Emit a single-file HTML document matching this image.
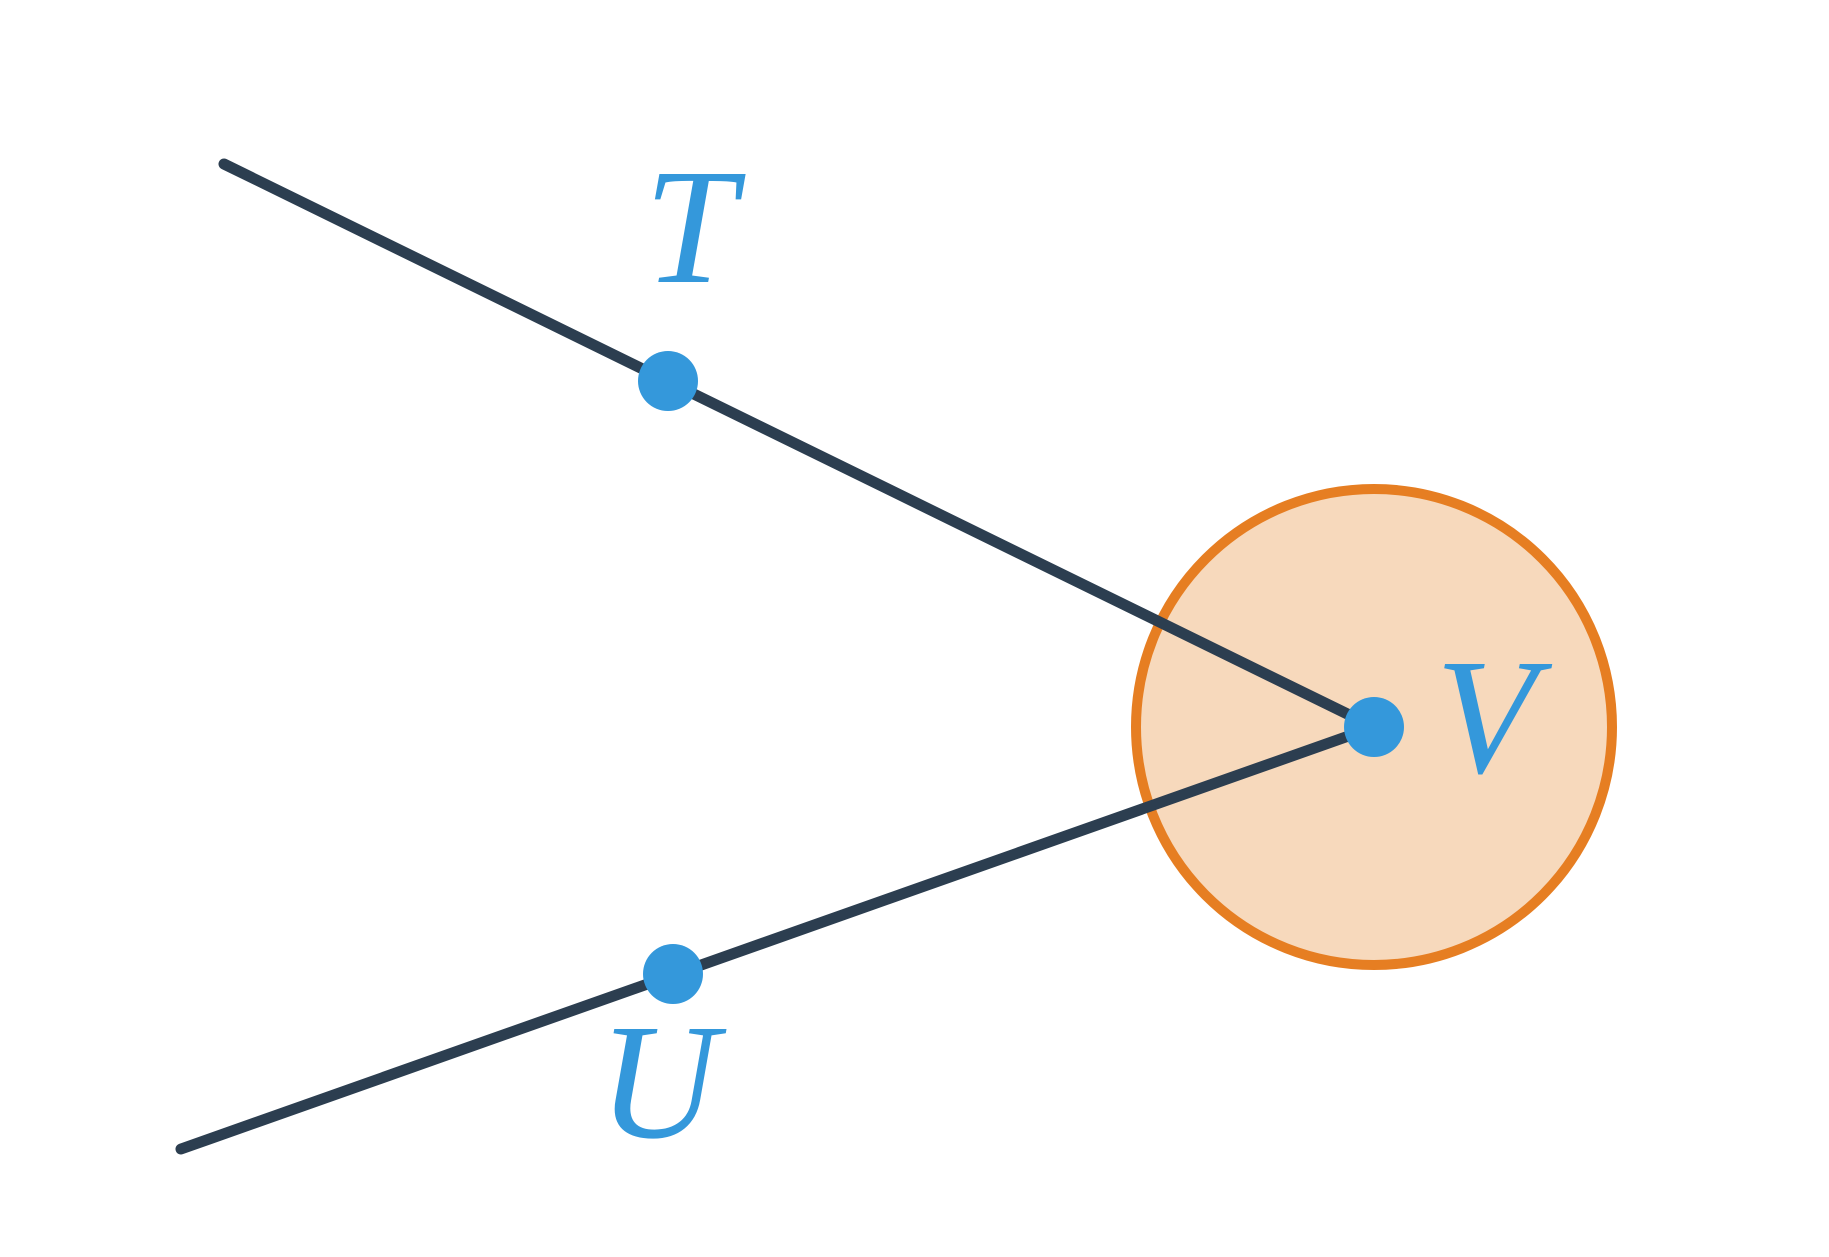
<!DOCTYPE html>
<html><head><meta charset="utf-8"><style>
html,body{margin:0;padding:0;background:#fff;}
svg{display:block;}
</style></head><body>
<svg width="1829" height="1257" viewBox="0 0 1829 1257" xmlns="http://www.w3.org/2000/svg">
<rect width="1829" height="1257" fill="#fff"/>
<circle cx="1374" cy="727" r="238" fill="#f7d9bc" stroke="#e67e22" stroke-width="10"/>
<line x1="224" y1="164" x2="1374" y2="727" stroke="#2c3e50" stroke-width="11" stroke-linecap="round"/>
<line x1="181" y1="1149" x2="1374" y2="727" stroke="#2c3e50" stroke-width="11" stroke-linecap="round"/>
<circle cx="668" cy="381" r="30" fill="#3498db"/>
<circle cx="673" cy="974" r="30" fill="#3498db"/>
<circle cx="1374" cy="727" r="30" fill="#3498db"/>
<g font-family="'Liberation Serif', serif" font-style="italic" font-size="165" fill="#3498db" text-anchor="middle">
<text x="690" y="282">T</text>
<text x="658" y="1137">U</text>
<text x="1486" y="772">V</text>
</g>
</svg>
</body></html>
